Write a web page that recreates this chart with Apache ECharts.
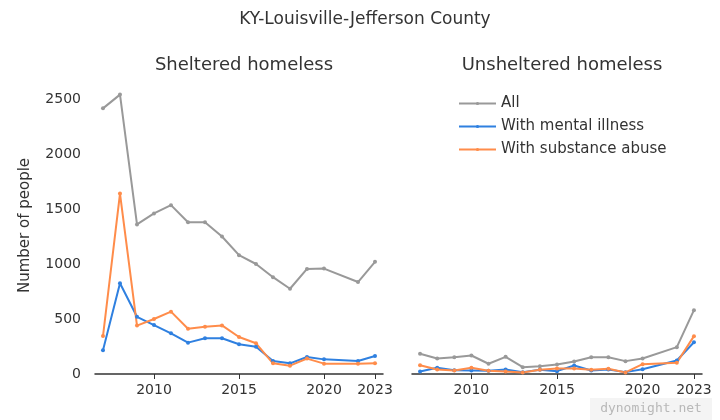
<!DOCTYPE html>
<html><head><meta charset="utf-8">
<script src="https://cdn.jsdelivr.net/npm/echarts@6/dist/echarts.min.js"></script>
<style>html,body{margin:0;padding:0;background:#fff}#c{width:720px;height:420px}</style>
</head><body><div id="c"></div>
<script>
const years = [2007,2008,2009,2010,2011,2012,2013,2014,2015,2016,2017,2018,2019,2020,2022,2023];
const shelteredAll = [2415,2540,1360,1460,1535,1380,1380,1250,1080,1000,880,775,955,958,836,1020];
const shelteredMental = [215,825,520,445,370,285,325,325,270,248,118,97,155,133,118,164];
const shelteredSubstance = [345,1640,440,500,567,412,430,442,336,279,97,76,140,94,94,97];
const unshelteredAll = [184,141,153,168,93,156,62,71,86,114,153,153,117,141,244,580];
const unshelteredMental = [23,56,35,32,29,41,17,38,26,77,32,41,17,44,123,289];
const unshelteredSubstance = [80,41,32,56,29,23,14,38,50,50,38,47,14,89,102,344];
const xTicks = [2010,2015,2020,2023];
const yTicks = [0,500,1000,1500,2000,2500];
const names = ['All','With mental illness','With substance abuse'];
const colors = ['#999999','#2f80e0','#ff8c4a'];

const pair = arr => years.map((y,i)=>[y,arr[i]]);
const font = 'DejaVu Sans';
const txt = '#333';
const plain = v => String(v);

function xAxis(idx){
  return {type:'value', gridIndex:idx, min:2006.53, max:2023.47,
    axisLine:{show:true,lineStyle:{color:'#333',width:1.5}},
    axisTick:{show:true,customValues:xTicks,length:5,lineStyle:{color:'#333'}},
    axisLabel:{customValues:xTicks,formatter:plain,color:txt,fontFamily:font,fontSize:14,margin:9},
    splitLine:{show:false}};
}
function yAxis(idx, labels){
  return {type:'value', gridIndex:idx, min:0, max:2700, interval:500,
    axisLine:{show:false}, axisTick:{show:false}, splitLine:{show:false},
    axisLabel:{show:labels,showMaxLabel:false,formatter:plain,color:txt,fontFamily:font,fontSize:14,margin:14},
    name: labels ? 'Number of people' : '', nameLocation:'middle', nameGap:62,
    nameTextStyle:{color:txt,fontFamily:font,fontSize:15}};
}
function line(name, data, idx, ci){
  return {type:'line', name:name, xAxisIndex:idx, yAxisIndex:idx, data:pair(data),
    symbol:'circle', symbolSize:4, showSymbol:true,
    lineStyle:{width:2,color:colors[ci]}, itemStyle:{color:colors[ci]}, color:colors[ci]};
}
const chart = echarts.init(document.getElementById('c'));
chart.setOption({
  animation:false,
  backgroundColor:'#fff',
  title:[
    {text:'KY-Louisville-Jefferson County',left:360,top:6,textAlign:'center',textStyle:{color:txt,fontFamily:font,fontSize:17,fontWeight:'normal'}},
    {text:'Sheltered homeless',left:239,top:51,textAlign:'center',textStyle:{color:txt,fontFamily:font,fontSize:18,fontWeight:'normal'}},
    {text:'Unsheltered homeless',left:557,top:51,textAlign:'center',textStyle:{color:txt,fontFamily:font,fontSize:18,fontWeight:'normal'}}
  ],
  legend:{data:names,orient:'vertical',left:453,top:91,itemWidth:37,itemHeight:4,itemGap:8,
    textStyle:{color:txt,fontFamily:font,fontSize:15}},
  grid:[
    {left:95,width:288,top:77,height:297},
    {left:412,width:290,top:77,height:297}
  ],
  xAxis:[xAxis(0),xAxis(1)],
  yAxis:[yAxis(0,true),yAxis(1,false)],
  series:[
    line(names[0],shelteredAll,0,0),
    line(names[1],shelteredMental,0,1),
    line(names[2],shelteredSubstance,0,2),
    line(names[0],unshelteredAll,1,0),
    line(names[1],unshelteredMental,1,1),
    line(names[2],unshelteredSubstance,1,2)
  ],
  graphic:[
    {type:'rect',shape:{x:590,y:398,width:122,height:22},style:{fill:'#f4f4f4'}},
    {type:'text',x:651,y:409,style:{text:'dynomight.net',fontFamily:'DejaVu Sans Mono',fontSize:13,fill:'#b8b8b8',align:'center',verticalAlign:'middle'}}
  ]
});
</script></body></html>
